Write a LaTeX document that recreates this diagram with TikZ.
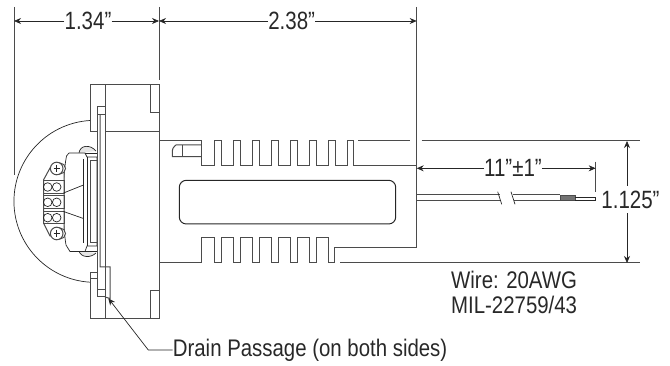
\documentclass[tikz,border=0pt]{standalone}
\usepackage{fontspec}
\setmainfont{Liberation Sans}
\usepackage{tikz}
\usetikzlibrary{arrows.meta,positioning}
\definecolor{dfline}{RGB}{75,75,75}
\definecolor{dftext}{RGB}{40,40,40}
\tikzstyle{part} = [draw=dfline, line width=1pt, line join=miter]
\tikzstyle{thin part} = [draw=black!85, line width=0.7pt]
\tikzstyle{dimline} = [draw=dfline, line width=1pt]
\tikzstyle{arrow} = [draw=black!85, line width=0.7pt, -{Stealth[length=7pt,width=6pt]}]
\tikzstyle{dimtext} = [inner sep=0pt, text=dftext, font=\fontsize{25}{26}\selectfont, xscale=0.82]
\tikzstyle{notetext} = [inner sep=0pt, text=dftext, font=\fontsize{24}{25}\selectfont, xscale=0.85]

\begin{document}
\begin{tikzpicture}[x=1pt, y=-1pt]
\useasboundingbox (0,0) rectangle (670,366);

% Extension lines
\coordinate (ext1) at (14,21);
\coordinate (ext2) at (159,21);
\coordinate (ext3) at (416.7,21);
\coordinate (ext4) at (595.7,168.3);
\coordinate (ext5) at (416.7,168.3);
\coordinate (ext6) at (627,141);
\coordinate (ext7) at (627,263);
\draw[dimline] (14,7) -- (14,175);
\draw[dimline] (159,7) -- (159,80);
\draw[dimline] (416.7,7) -- (416.7,247.3);
\draw[dimline] (595.7,161.7) -- (595.7,191.7);

% Flange
\draw[part] (90,131.5) -- (90,84.5) -- (159,84.5) -- (159,319) -- (90,319) -- (90,273);
\draw[part] (105,84.5) -- (105,319);
\draw[part] (150.5,84.5) -- (150.5,113) -- (159,113);
\draw[part] (150.5,319) -- (150.5,290.7) -- (159,290.7);
\draw[part] (105,131.7) -- (159,131.7);
\draw[part] (90,131.5) -- (97,131.5);
\draw[part] (97,107) rectangle (105,115);
\draw[part] (97,107) -- (97,297) -- (105,297);
\draw[part] (100,115) -- (100,267) -- (110,267) -- (110,298.5) -- (105,297);
\draw[part] (90,273) -- (97,273);
\draw[part] (90,279) -- (97,279);
\draw[part] (97,290) -- (105,290);

% Dome
\draw[thin part] (90,120.5) arc[start angle=-93.5, end angle=-266.5, radius=81];

% Connector bumps
\draw[thin part, fill=black!10] (79,153) .. controls (80,145) and (90,144) .. (96,151);
\draw[thin part, fill=black!10] (79,251) .. controls (81,258) and (91,258) .. (96,253);

% Connector housing
\draw[thin part, fill=white] (66.5,156) -- (69,153) -- (85,153) -- (87,157) -- (97,157) -- (97,246) -- (87,246) -- (85,251.5) -- (70,251.5) -- (66,245) .. controls (62,220) and (62,180) .. (66.5,156);
\draw[thin part] (85,153) -- (97,153) (85,251.5) -- (97,251.5);
\draw[draw=black!85, line width=1.2pt] (83.5,159) -- (83.5,243);
\draw[part] (90,161) rectangle (97,243);
\draw[thin part] (87,157) -- (87,246);

% Terminal block
\draw[part, fill=white] (43.5,180) -- (50,168) -- (64,168) -- (64,236) -- (50,236) -- (43.5,223) -- cycle;
\draw[part] (43.5,180.5) rectangle (64,193.5);
\draw[part] (43.5,196) rectangle (64,208.5);
\draw[part] (43.5,211.5) rectangle (64,224);
\draw[thin part] (47.7,187) circle (4.3);
\draw[thin part] (56.7,187) circle (4.3);
\draw[thin part] (47.7,202.3) circle (4.3);
\draw[thin part] (56.7,202.3) circle (4.3);
\draw[thin part] (47.7,217.7) circle (4.3);
\draw[thin part] (56.7,217.7) circle (4.3);
\draw[thin part] (63.5,193) -- (83.5,185);
\draw[thin part] (63.5,211.5) -- (83.5,218.5);

% Screws
\draw[part, fill=white] (60,168.5) circle (5.5);
\draw[part, fill=white] (60,233.5) circle (5.5);
\draw[part, fill=white] (56.7,168.5) circle (6.3);
\draw[part, fill=white] (56.7,233.5) circle (6.3);
\draw[draw=black!85, line width=1pt] (53.5,168.5) -- (60,168.5) (56.7,165) -- (56.7,172);
\draw[draw=black!85, line width=1pt] (53.5,233.5) -- (60,233.5) (56.7,230) -- (56.7,237);

% Heat sink, upper fins
\draw[part] (159,141) -- (201.7,141) -- (201.7,166) -- (214.3,166) -- (214.3,141) -- (221,141) -- (221,166) -- (233.3,166) -- (233.3,141) -- (240,141) -- (240,166) -- (252.3,166) -- (252.3,141) -- (259,141) -- (259,166) -- (271.3,166) -- (271.3,141) -- (278,141) -- (278,166) -- (290.3,166) -- (290.3,141) -- (297,141) -- (297,166) -- (309.3,166) -- (309.3,141) -- (316,141) -- (316,166) -- (328.3,166) -- (328.3,141) -- (335,141) -- (335,166) -- (347.3,166) -- (347.3,141) -- (353.3,141) -- (353.3,166) -- (416.7,166);
\draw[part] (358,141) -- (410,141);
\draw[part] (421.7,141) -- (640,141);

% Heat sink, lower fins
\draw[part] (159,263) -- (201.7,263) -- (201.7,237.7) -- (214.3,237.7) -- (214.3,263) -- (221,263) -- (221,237.7) -- (233.3,237.7) -- (233.3,263) -- (240,263) -- (240,237.7) -- (252.3,237.7) -- (252.3,263) -- (259,263) -- (259,237.7) -- (271.3,237.7) -- (271.3,263) -- (278,263) -- (278,237.7) -- (290.3,237.7) -- (290.3,263) -- (297,263) -- (297,237.7) -- (309.3,237.7) -- (309.3,263) -- (316,263) -- (316,237.7) -- (328.3,237.7) -- (328.3,263) -- (334.3,263) -- (334.3,247.3) -- (416.7,247.3);
\draw[part] (340,263) -- (640,263);

% Label recess and tab
\draw[part, rounded corners=7pt, draw=black!85] (179.3,180.3) rectangle (395.7,224);
\draw[part] (201.7,145) -- (176,145) [rounded corners=3pt] -- (172.3,148) [sharp corners] -- (172.3,156.7) -- (201.7,156.7);
\draw[part] (182.3,145) -- (182.3,156.7);

% Wire
\draw[part] (416.7,195) -- (500,195) (416.7,201) -- (500.5,201);
\draw[part] (513,195) -- (560,195) (513.5,201) -- (560,201);
\draw[thin part] (497.7,191.7) -- (501.7,204.3);
\draw[thin part] (511,191.7) -- (515,204.3);
\draw[part, fill=black!55] (560,195.5) rectangle (575,201);
\draw[thin part] (575,197) -- (595.7,197) -- (595.7,200) -- (575,200);

% Dimensions
\node[dimtext] (dimA) at (88,21) {1.34”};
\node[dimtext] (dimB) at (291.7,21) {2.38”};
\node[dimtext] (dimC) at (513,168.3) {11”±1”};
\node[dimtext, outer ysep=5pt] (dimD) at (630.5,199.5) {1.125”};
\draw[arrow] (dimA) -- (ext1);
\draw[arrow] (dimA) -- (ext2);
\draw[arrow] (dimB) -- (ext2);
\draw[arrow] (dimB) -- (ext3);
\draw[arrow] (dimC) -- (ext5);
\draw[arrow] (dimC) -- (ext4);
\draw[arrow] (ext6 |- dimD.north) -- (ext6);
\draw[arrow] (ext7 |- dimD.south) -- (ext7);

% Notes
\node[notetext, anchor=west, align=left] (wire) at (451,292.5) {Wire: 20AWG\\MIL-22759/43};
\node[notetext, anchor=west] (drain) at (172.7,350) {Drain Passage (on both sides)};
\coordinate (drainBend) at (148.3,350);
\coordinate (drainTip) at (108.3,298.3);
\draw[arrow] (drain.west) -- (drainBend) -- (drainTip);
\end{tikzpicture}
\end{document}
